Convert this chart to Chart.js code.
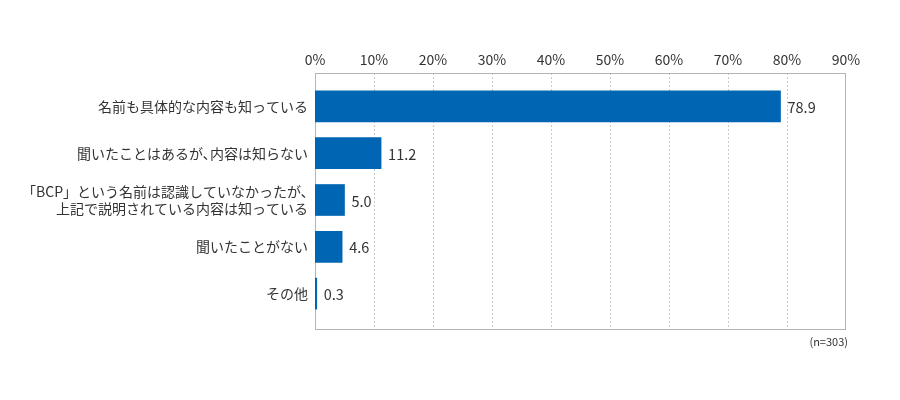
<!DOCTYPE html>
<html>
<head>
<meta charset="utf-8">
<script src="https://cdn.jsdelivr.net/npm/chart.js@4"></script>
<style>
  html, body { margin: 0; padding: 0; background: #fff; }
  #wrap { width: 900px; height: 400px; position: relative; }
</style>
</head>
<body>
<div id="wrap"><canvas id="bcpChart"></canvas></div>
<script>
// data
const categories = [
    '名前も具体的な内容も知っている',
    '聞いたことはあるが､内容は知らない',
    ['「BCP」という名前は認識していなかったが､', '上記で説明されている内容は知っている'],
    '聞いたことがない',
    'その他'
];
const shares = [78.9, 11.2, 5.0, 4.6, 0.3];
const xTicks = [0, 10, 20, 30, 40, 50, 60, 70, 80, 90];
const sampleNote = '(n=303)';

const FONT = "'Noto Sans CJK JP', 'Noto Sans', sans-serif";
const TEXT = '#333';

// frame + dotted gridlines, drawn a bit taller than the bar band
const framePlugin = {
    id: 'frame',
    beforeDatasetsDraw(chart) {
        const { ctx, chartArea, scales } = chart;
        const top = chartArea.top - 10;
        const bottom = chartArea.bottom + 12;
        ctx.save();
        ctx.strokeStyle = '#c8c8c8';
        ctx.lineWidth = 1;
        ctx.setLineDash([2, 2]);
        xTicks.slice(1, -1).forEach(v => {
            const x = Math.round(scales.x.getPixelForValue(v)) + 0.5;
            ctx.beginPath();
            ctx.moveTo(x, top);
            ctx.lineTo(x, bottom);
            ctx.stroke();
        });
        ctx.setLineDash([]);
        ctx.strokeStyle = '#b4b4b4';
        const l = Math.round(chartArea.left) + 0.5;
        const r = Math.round(chartArea.right) - 0.5;
        ctx.strokeRect(l, Math.round(top) + 0.5, r - l, Math.round(bottom - top));
        ctx.restore();
    },
    afterDraw(chart) {
        const { ctx, chartArea } = chart;
        ctx.save();
        ctx.font = '11px ' + FONT;
        ctx.fillStyle = TEXT;
        ctx.textAlign = 'right';
        ctx.textBaseline = 'middle';
        ctx.fillText(sampleNote, chartArea.right + 2, chartArea.bottom + 25);
        ctx.restore();
    }
};

// numbers at the bar ends
const valueLabels = {
    id: 'valueLabels',
    afterDatasetsDraw(chart) {
        const { ctx } = chart;
        const meta = chart.getDatasetMeta(0);
        ctx.save();
        ctx.font = '14.5px ' + FONT;
        ctx.fillStyle = TEXT;
        ctx.textAlign = 'left';
        ctx.textBaseline = 'middle';
        meta.data.forEach((bar, i) => {
            ctx.fillText(shares[i].toFixed(1), bar.x + 7, bar.y + 1);
        });
        ctx.restore();
    }
};

new Chart(document.getElementById('bcpChart'), {
    type: 'bar',
    data: {
        labels: categories,
        datasets: [{
            data: shares,
            backgroundColor: '#0066b3',
            borderWidth: 0,
            barThickness: 31
        }]
    },
    options: {
        indexAxis: 'y',
        responsive: true,
        maintainAspectRatio: false,
        animation: false,
        layout: { padding: { left: 0, right: 54, top: 0, bottom: 83 } },
        plugins: {
            legend: { display: false },
            tooltip: { enabled: false }
        },
        scales: {
            x: {
                position: 'top',
                min: 0,
                max: 90,
                afterBuildTicks(scale) {
                    scale.ticks = xTicks.map(v => ({ value: v }));
                },
                afterFit(scale) { scale.height = 83; },
                grid: { display: false, drawTicks: false },
                border: { display: false },
                ticks: {
                    color: TEXT,
                    font: { family: FONT, size: 14 },
                    padding: 15,
                    callback: v => v + '%'
                }
            },
            y: {
                afterFit(scale) { scale.width = 315; },
                grid: { display: false, drawTicks: false },
                border: { display: false },
                ticks: {
                    color: TEXT,
                    font: { family: FONT, size: 14 },
                    padding: 7
                }
            }
        }
    },
    plugins: [framePlugin, valueLabels]
});
</script>
</body>
</html>
